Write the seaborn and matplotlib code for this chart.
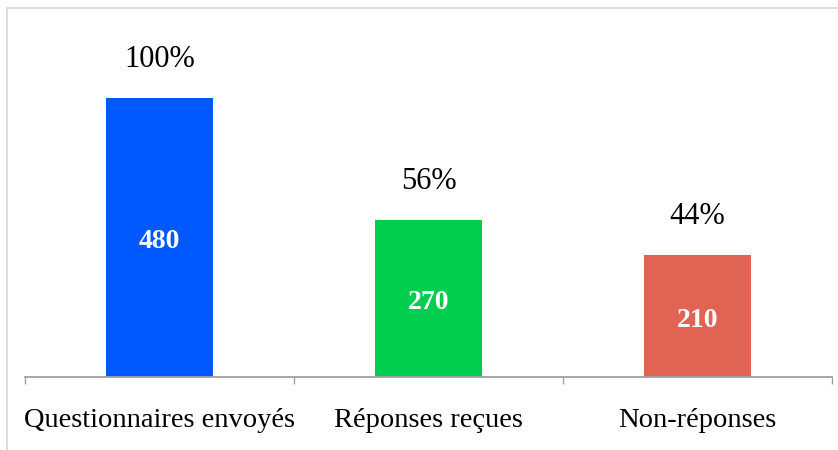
import pandas as pd
import seaborn as sns
import matplotlib.pyplot as plt
from matplotlib.patches import Rectangle

# Chart data
categories = ['Questionnaires envoyés', 'Réponses reçues', 'Non-réponses']
counts = [480, 270, 210]
percents = ['100%', '56%', '44%']
colors = ['#0058FF', '#00CC4E', '#E06354']

df = pd.DataFrame({'Category': categories, 'Count': counts})

sns.set_style('white')
plt.rcParams['font.family'] = ['Liberation Serif', 'DejaVu Serif']

fig = plt.figure(figsize=(8.38, 4.5), dpi=100)
ax = fig.add_axes([25 / 838, 1 - 377 / 450, 807 / 838, 349 / 450])

sns.barplot(data=df, x='Category', y='Count', hue='Category',
            palette=colors, width=0.4, legend=False, ax=ax,
            saturation=1, linewidth=0)

ax.set_xlim(-0.5, 2.5)
ax.set_ylim(0, 600)

# value labels inside bars, percentages above
for i, (c, p) in enumerate(zip(counts, percents)):
    ax.annotate(str(c), (i, c / 2), xytext=(0, -3), textcoords='offset points',
                ha='center', va='center', color='white',
                fontsize=20, fontweight='bold')
    ax.annotate(p, (i, c), xytext=(0, 17), textcoords='offset points',
                ha='center', va='bottom', fontsize=22, color='black')

# category boundaries as tick marks, labels centred under bars
ax.set_xticks([-0.5, 0.5, 1.5, 2.5])
ax.set_xticklabels([])
ax.set_xticks([0, 1, 2], minor=True)
ax.set_xticklabels(categories, minor=True, fontsize=20.5, color='black')
ax.tick_params(axis='x', which='major', direction='out', length=5,
               width=1, color='#a0a0a0', bottom=True)
ax.tick_params(axis='x', which='minor', length=0, pad=22)
ax.set_xlabel('')
ax.set_ylabel('')
ax.set_yticks([])

for s in ['top', 'right', 'left']:
    ax.spines[s].set_visible(False)
ax.spines['bottom'].set_color('#a0a0a0')
ax.spines['bottom'].set_linewidth(1.3)

# light frame around the chart area
fig.patches.append(Rectangle((7 / 838, -0.1), 1.0, 1 - 8 / 450 + 0.1,
                             transform=fig.transFigure, fill=False,
                             edgecolor='#d4d4d4', linewidth=1.2))

fig.savefig('out.png', dpi=100)
